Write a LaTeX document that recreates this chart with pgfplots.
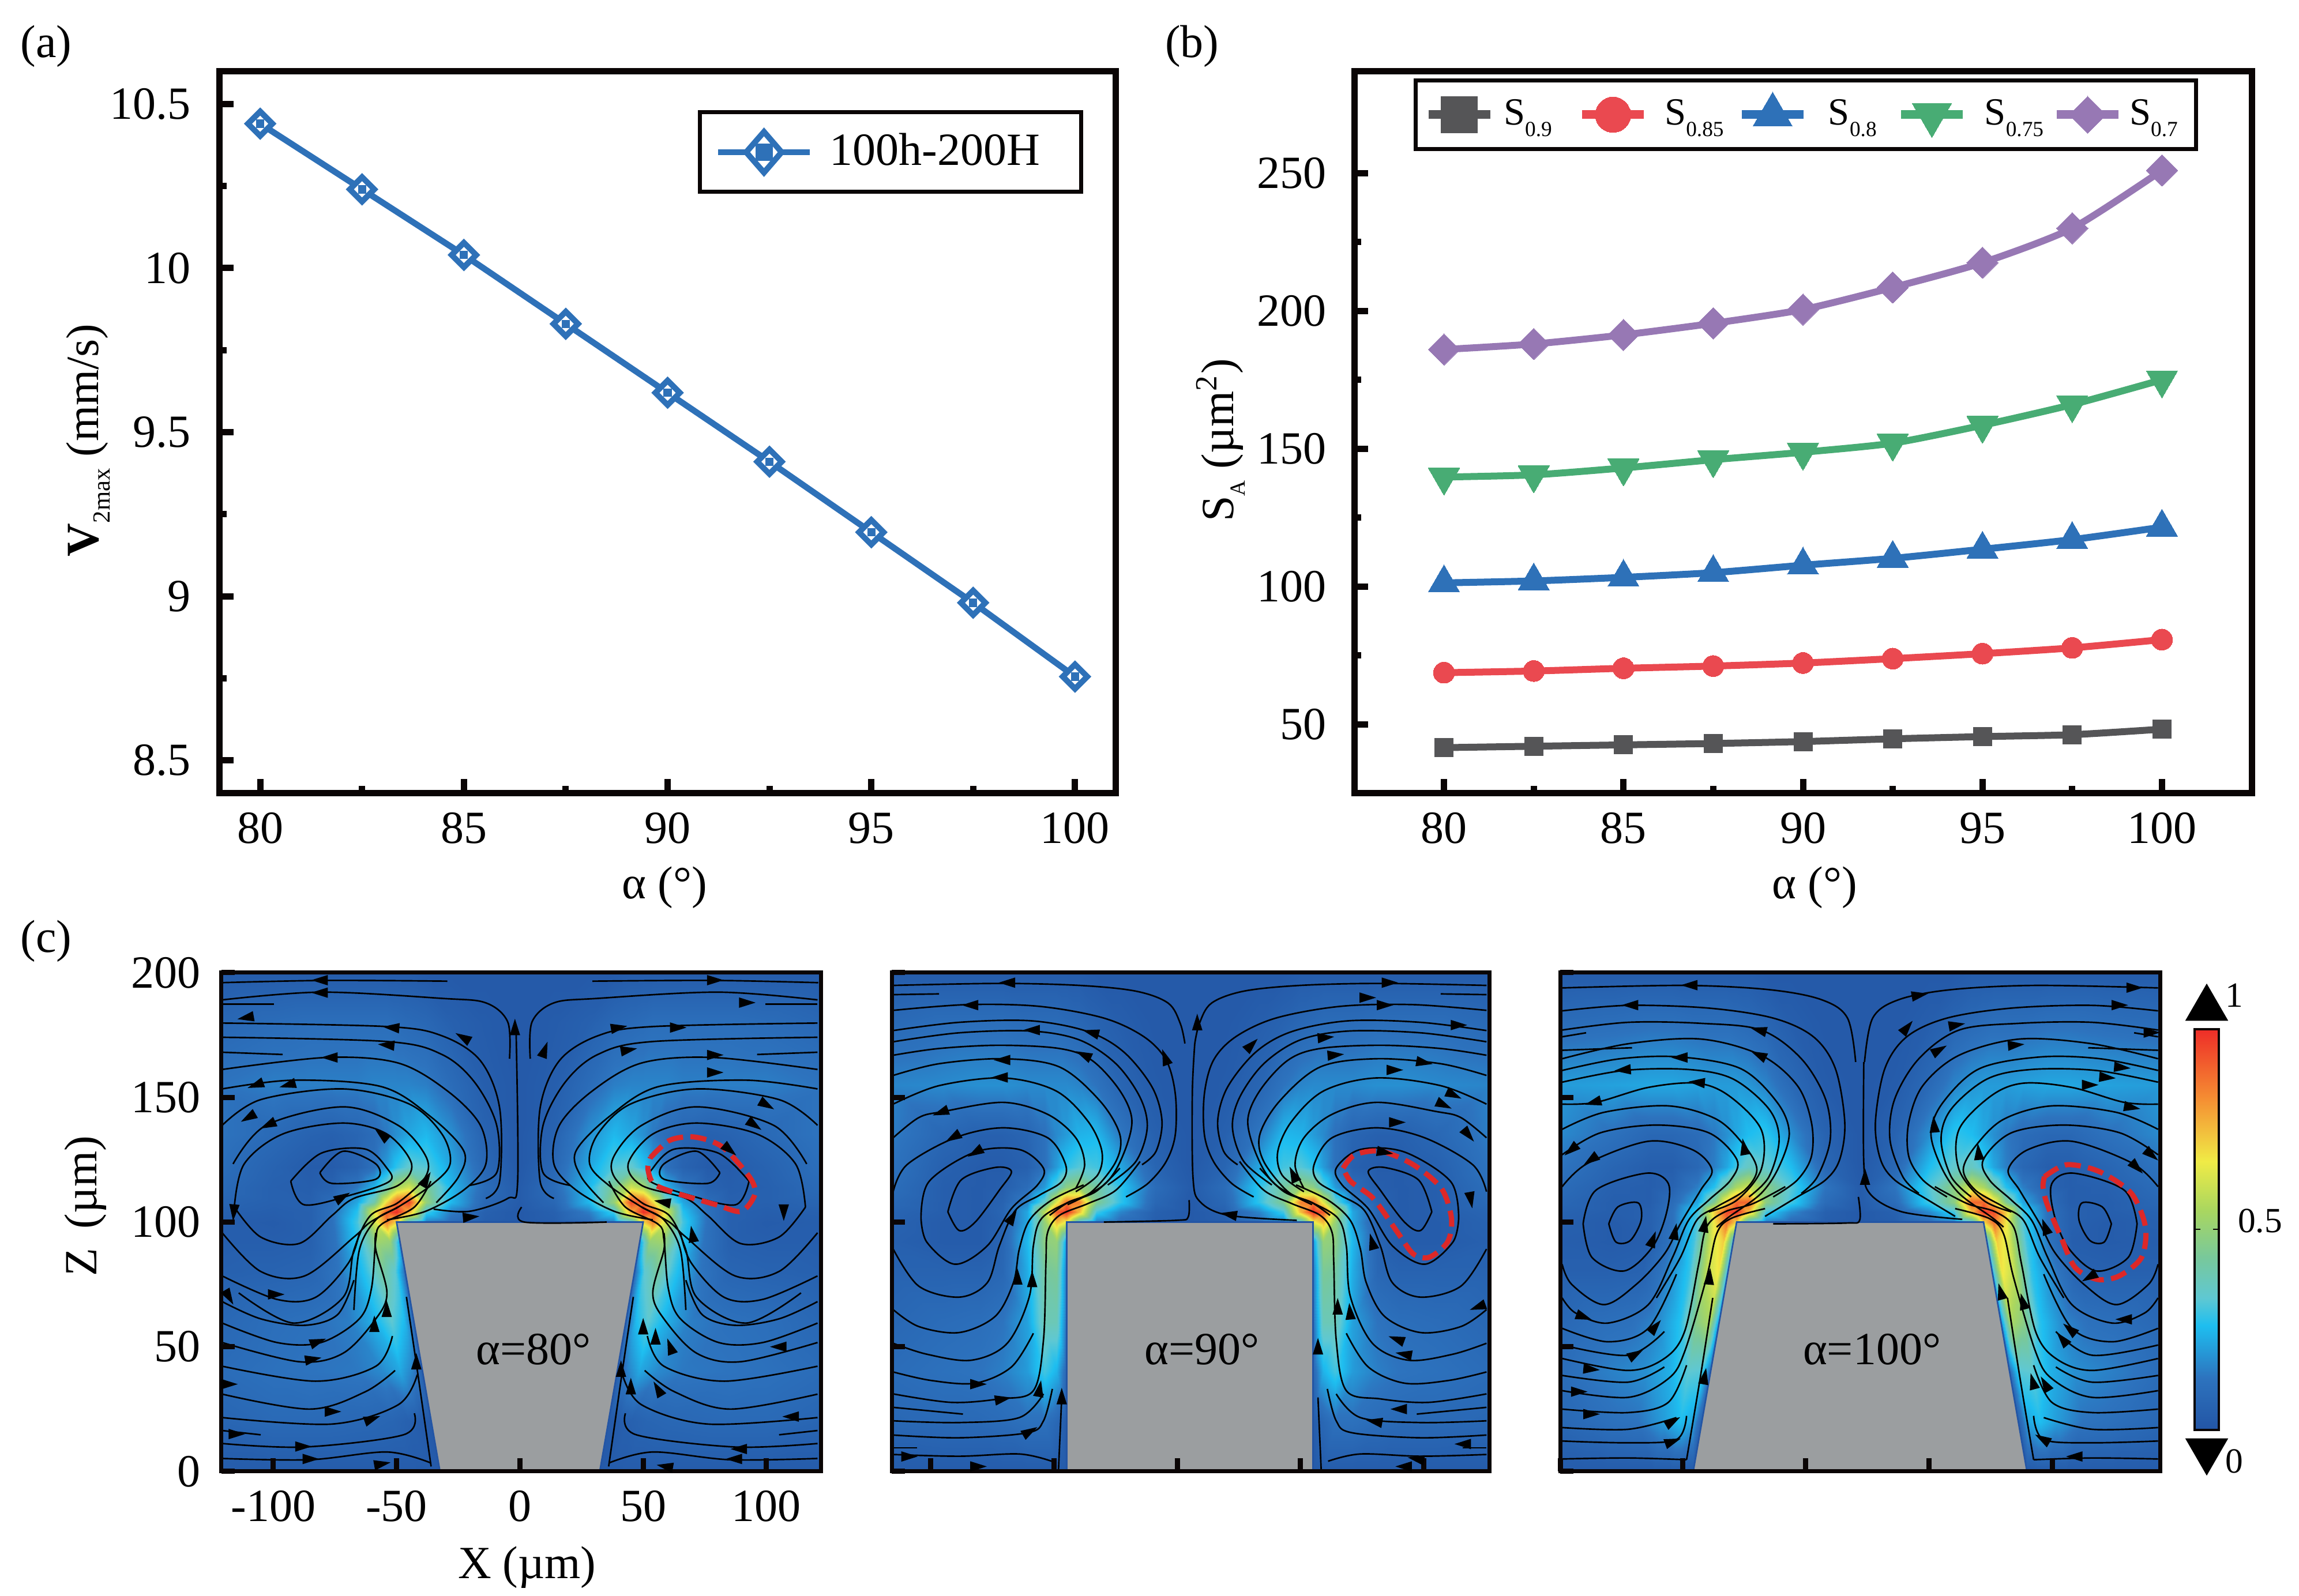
\documentclass[border=0pt]{standalone}
\usepackage{fontspec}
\usepackage{pgfplots}
\pgfplotsset{compat=1.18}
\setmainfont{Liberation Serif}
\newcommand\tw{\fontsize{12}{14.4}\selectfont}
\newcommand\lsub[1]{\raisebox{-3pt}{\fontsize{5.6}{6}\selectfont #1}}
\definecolor{cgray}{RGB}{85,85,87}
\definecolor{cred}{RGB}{234,73,80}
\definecolor{cblue}{RGB}{46,113,184}
\definecolor{cgreen}{RGB}{72,172,116}
\definecolor{cpurple}{RGB}{151,120,180}
\definecolor{spine}{RGB}{10,5,5}
\definecolor{wallgray}{RGB}{155,158,160}
\definecolor{deep}{RGB}{35,85,165}
\definecolor{loopred}{RGB}{221,40,40}
\pgfdeclareplotmark{arr}{%
  \pgfsetfillcolor{black}%
  \pgfpathmoveto{\pgfqpoint{2.3pt}{0pt}}%
  \pgfpathlineto{\pgfqpoint{-2pt}{1.35pt}}%
  \pgfpathlineto{\pgfqpoint{-2pt}{-1.35pt}}%
  \pgfpathclose\pgfusepathqfill}
\pgfplotsset{
  colormap={heat}{rgb255(0pt)=(35,85,165); rgb255(13pt)=(45,115,190); rgb255(26pt)=(30,190,240);
    rgb255(33pt)=(95,200,210); rgb255(43pt)=(120,200,155); rgb255(55pt)=(170,215,95);
    rgb255(67pt)=(240,235,70); rgb255(83pt)=(245,140,50); rgb255(100pt)=(238,45,40)},
  common/.style={scale only axis, enlargelimits=false, tick align=inside,
    xtick pos=bottom, ytick pos=left, axis line style={spine},
    tick label style={font=\tw}, label style={font=\tw},
    /pgf/number format/assume math mode=true},
  top/.style={common, at={(#1,208.875pt)}, anchor=south west, height=187.8pt,
    axis line style={spine,line width=1.65pt},
    every tick/.append style={spine,line width=1.65pt},
    major tick length=3.6pt, minor tick length=1.8pt,
    minor x tick num=1, minor y tick num=1,
    xmin=0, xtick={80,85,90,95,100},
    xticklabel style={yshift=-1.5pt}},
  flow/.style 2 args={common, at={(#1,32.4pt)}, anchor=south west, height=129.75pt, width=#2,
    axis line style={spine,line width=1.05pt},
    every tick/.append style={spine,line width=1.35pt},
    major tick length=3.45pt, ymin=0, ymax=200, ytick={0,50,100,150,200},
    axis on top, axis background/.style={fill=deep},
    point meta min=0, point meta max=1},
  stream/.style={black, line width=0.4pt, smooth, tension=0.55, no markers, forget plot},
  hotsurf/.style={surf, shader=interp, forget plot, point meta=explicit, mesh/cols=#1},
  dashloop/.style={loopred, line width=1.35pt, dash pattern=on 4.2pt off 1.9pt, smooth, no markers, forget plot},
  arrowmarks/.style={scatter, only marks, mark=arr, forget plot,
    scatter/use mapped color={draw=black,fill=black},
    visualization depends on={\thisrowno{2} \as \ang},
    scatter/@pre marker code/.append style={/tikz/rotate=\ang}},
}
% one half of the field / of the stream lines, drawn on both sides of the pillar
\newcommand\Hot[2]{%
  \addplot[hotsurf=#1] table[row sep=\\,header=false,x index=0,y index=1,meta index=2]{#2};
  \addplot[hotsurf=#1,x filter/.expression={-x}] table[row sep=\\,header=false,x index=0,y index=1,meta index=2]{#2};}
\newcommand\Sl[1]{%
  \addplot[stream] coordinates {#1};
  \addplot[stream,x filter/.expression={-x}] coordinates {#1};}
\newcommand\Sr[1]{\addplot[stream] coordinates {#1};}
\newcommand\Arrows[1]{\addplot[arrowmarks] table[row sep=\\,header=false,x index=0,y index=1]{#1};}
\begin{document}
\begin{tikzpicture}
\path[use as bounding box] (0,0) rectangle (597.9pt,415.2pt);
\node[font=\tw] at (12pt,403.2pt) {(a)};
\node[font=\tw] at (310pt,403.2pt) {(b)};
\node[font=\tw] at (12pt,170.4pt) {(c)};

% (a)
\begin{axis}[top=57.075pt, width=233.1pt,
    xmin=79, xmax=101, ymin=8.4, ymax=10.6, ytick={8.5,9,9.5,10,10.5},
    yticklabel style={xshift=-4pt,/pgf/number format/fixed},
    xlabel={α (°)}, xlabel style={at={(axis description cs:0.4965,-0.1306)},anchor=center},
    ylabel={\textbf{V}\raisebox{-3pt}{\fontsize{6.4}{7}\selectfont 2max} (mm/s)}, ylabel style={at={(axis description cs:-0.1464,0.489)},anchor=center},
    legend style={at={(axis description cs:0.7487,0.8878)},anchor=center,draw=spine,line width=1.05pt,
      inner xsep=4pt,inner ysep=4.3pt,font=\tw,nodes={inner sep=0pt},/tikz/column 1/.style={column sep=4.45pt}},
    legend image code/.code={
      \draw[cblue,line width=1.5pt] (0,0)--(23.85pt,0);
      \draw[cblue,line width=1.5pt,fill=white] (11.925pt,5.3pt)--(16.5pt,0)--(11.925pt,-5.3pt)--(7.3pt,0)--cycle;
      \fill[cblue] (10.5pt,-1.4pt) rectangle (13.4pt,1.4pt);},
  ]
\addplot[cblue,line width=1.6pt,mark=square*,mark size=2.25pt,
    mark options={rotate=45,fill=white,draw=cblue,line width=1.5pt,solid}] coordinates {
  (80,10.44)(82.5,10.24)(85,10.04)(87.5,9.83)(90,9.62)(92.5,9.41)(95,9.195)(97.5,8.98)(100,8.755)};
\addlegendentry{100h-200H\hspace*{6.7pt}}
\addplot[only marks,forget plot,mark=square*,mark size=1pt,mark options={fill=cblue,draw=cblue,line width=0pt}] coordinates {
  (80,10.44)(82.5,10.24)(85,10.04)(87.5,9.83)(90,9.62)(92.5,9.41)(95,9.195)(97.5,8.98)(100,8.755)};
\end{axis}

% (b)
\begin{axis}[top=352.2pt, width=233.4pt,
    xmin=77.5, xmax=102.5, ymin=25, ymax=287, ytick={50,100,150,200,250},
    yticklabel style={xshift=-3.7pt},
    xlabel={α (°)}, xlabel style={at={(axis description cs:0.513,-0.1306)},anchor=center},
    ylabel={S\lsub{A} (µm\textsuperscript{2})}, ylabel style={at={(axis description cs:-0.149,0.489)},anchor=center},
    legend columns=5,
    legend style={at={(axis description cs:0.5032,0.9397)},anchor=center,draw=spine,line width=1.05pt,
      inner xsep=2.2pt,inner ysep=3pt,font=\fontsize{10}{12}\selectfont,nodes={inner sep=0pt},
      /tikz/column 1/.style={column sep=2.4pt},/tikz/column 2/.style={column sep=6.75pt},
      /tikz/column 3/.style={column sep=4.3pt},/tikz/column 4/.style={column sep=3.6pt},
      /tikz/column 5/.style={column sep=5.35pt},/tikz/column 6/.style={column sep=5.25pt},
      /tikz/column 7/.style={column sep=4.55pt},/tikz/column 8/.style={column sep=2.35pt},
      /tikz/column 9/.style={column sep=1.75pt}},
    legend image code/.code={\draw[mark repeat=2,mark phase=2,#1] plot coordinates {(0pt,0pt)(8pt,0pt)(16pt,0pt)};},
    every axis plot/.append style={line width=1.8pt,smooth,tension=0.4,forget plot},
  ]
\addplot[cgray,mark=square*,mark size=2.4pt,mark options={solid,line width=0pt,fill=cgray}] coordinates {
  (80,41.5)(82.5,42)(85,42.5)(87.5,43)(90,43.7)(92.5,44.7)(95,45.5)(97.5,46.2)(100,48.2)};
\addplot[cred,mark=*,mark size=2.75pt,mark options={solid,line width=0pt,fill=cred}] coordinates {
  (80,68.7)(82.5,69.3)(85,70.3)(87.5,71.1)(90,72.2)(92.5,73.8)(95,75.6)(97.5,77.7)(100,80.7)};
\addplot[cblue,mark=triangle*,mark size=4.7pt,mark options={solid,line width=0pt,fill=cblue}] coordinates {
  (80,101.3)(82.5,102)(85,103.3)(87.5,105)(90,107.7)(92.5,110.2)(95,113.5)(97.5,117)(100,121.5)};
\addplot[cgreen,mark=triangle*,mark size=4.7pt,mark options={solid,rotate=180,line width=0pt,fill=cgreen}] coordinates {
  (80,139.7)(82.5,140.5)(85,143)(87.5,146)(90,148.7)(92.5,152)(95,158.5)(97.5,166)(100,175)};
\addplot[cpurple,mark=square*,mark size=2.9pt,mark options={solid,rotate=45,line width=0pt,fill=cpurple}] coordinates {
  (80,186)(82.5,188)(85,191.3)(87.5,195.5)(90,200.5)(92.5,208.5)(95,217.5)(97.5,230)(100,251)};
\addlegendimage{cgray,line width=2.25pt,mark=square*,mark size=4.7pt,mark options={solid,line width=0pt,fill=cgray}}
\addlegendentry{S\lsub{0.9}}
\addlegendimage{cred,line width=2.25pt,mark=*,mark size=4.6pt,mark options={solid,line width=0pt,fill=cred}}
\addlegendentry{S\lsub{0.85}}
\addlegendimage{cblue,line width=2.25pt,mark=triangle*,mark size=5.9pt,mark options={solid,line width=0pt,fill=cblue}}
\addlegendentry{S\lsub{0.8}}
\addlegendimage{cgreen,line width=2.25pt,mark=triangle*,mark size=5.9pt,mark options={solid,rotate=180,line width=0pt,fill=cgreen}}
\addlegendentry{S\lsub{0.75}}
\addlegendimage{cpurple,line width=2.25pt,mark=square*,mark size=3.4pt,mark options={solid,rotate=45,line width=0pt,fill=cpurple}}
\addlegendentry{S\lsub{0.7}\hspace*{2.5pt}}
\end{axis}

% (c) alpha = 80
\begin{axis}[flow={57.6pt}{155.85pt}, xmin=-121, xmax=122, xtick={-100,-50,0,50,100},
    xticklabel style={yshift=-1.5pt}, yticklabel style={xshift=-2pt},
    xlabel={X (µm)}, xlabel style={at={(axis description cs:0.51,-0.192)},anchor=center},
    ylabel={Z\, (µm)}, ylabel style={at={(axis description cs:-0.227,0.532)},anchor=center}]
\Hot{8}{-122 0 .03\\-100 0 .03\\-85 0 .03\\-58.4 0 .03\\-48.4 0 .03\\-41.4 0 .03\\-36.4 0 .03\\-32.4 0 .02\\
-122 20 .07\\-100 20 .09\\-85 20 .09\\-61.9 20 .08\\-51.9 20 .07\\-44.9 20 .05\\-39.9 20 .03\\-35.9 20 .02\\
-122 40 .10\\-100 40 .12\\-85 40 .13\\-65.4 40 .14\\-55.4 40 .17\\-48.4 40 .22\\-43.4 40 .15\\-39.4 40 .05\\
-122 60 .08\\-100 60 .11\\-85 60 .12\\-68.9 60 .15\\-58.9 60 .24\\-51.9 60 .33\\-46.9 60 .25\\-42.9 60 .08\\
-122 80 .05\\-100 80 .06\\-85 80 .07\\-72.5 80 .14\\-62.5 80 .28\\-55.5 80 .42\\-50.5 80 .33\\-46.5 80 .10\\
-122 92 .04\\-100 92 .04\\-85 92 .05\\-74.6 92 .13\\-64.6 92 .30\\-57.6 92 .52\\-52.6 92 .50\\-48.6 92 .20\\
-122 100 .04\\-100 100 .03\\-85 100 .05\\-76 100 .12\\-66 100 .30\\-59 100 .62\\-54 100 .85\\-50 100 .70\\}
\Hot{13}{-122 100 .04\\-100 100 .03\\-85 100 .05\\-76 100 .12\\-66 100 .30\\-59 100 .62\\-54 100 .85\\-50 100 .70\\-45 100 .30\\-38 100 .15\\-28 100 .10\\-14 100 .04\\0 100 .02\\
-122 104 .05\\-100 104 .04\\-85 104 .05\\-76 104 .12\\-66 104 .27\\-59 104 .65\\-54 104 .92\\-50 104 1\\-45 104 .78\\-38 104 .30\\-28 104 .15\\-14 104 .05\\0 104 .02\\
-122 108 .07\\-100 108 .05\\-85 108 .05\\-76 108 .10\\-66 108 .22\\-59 108 .40\\-54 108 .70\\-50 108 .90\\-45 108 .95\\-38 108 .50\\-28 108 .25\\-14 108 .08\\0 108 .03\\
-122 114 .09\\-100 114 .05\\-85 114 .04\\-76 114 .06\\-66 114 .14\\-59 114 .24\\-54 114 .38\\-50 114 .55\\-45 114 .62\\-38 114 .45\\-28 114 .25\\-14 114 .10\\0 114 .03\\
-122 122 .11\\-100 122 .06\\-85 122 .03\\-76 122 .03\\-66 122 .06\\-59 122 .12\\-54 122 .20\\-50 122 .28\\-45 122 .34\\-38 122 .32\\-28 122 .22\\-14 122 .08\\0 122 .02\\
-122 135 .13\\-100 135 .09\\-85 135 .06\\-76 135 .05\\-66 135 .07\\-59 135 .10\\-54 135 .14\\-50 135 .18\\-45 135 .22\\-38 135 .25\\-28 135 .18\\-14 135 .06\\0 135 .02\\
-122 155 .13\\-100 155 .15\\-85 155 .15\\-76 155 .15\\-66 155 .15\\-59 155 .16\\-54 155 .16\\-50 155 .16\\-45 155 .16\\-38 155 .15\\-28 155 .10\\-14 155 .04\\0 155 .02\\
-122 180 .08\\-100 180 .10\\-85 180 .11\\-76 180 .11\\-66 180 .11\\-59 180 .11\\-54 180 .11\\-50 180 .10\\-45 180 .09\\-38 180 .08\\-28 180 .05\\-14 180 .03\\0 180 .02\\
-122 200 .03\\-100 200 .03\\-85 200 .03\\-76 200 .03\\-66 200 .03\\-59 200 .03\\-54 200 .03\\-50 200 .03\\-45 200 .03\\-38 200 .02\\-28 200 .02\\-14 200 .02\\0 200 .02\\}
\addplot[fill=wallgray,draw=deep,line width=0.4pt,forget plot] coordinates {(-32.4,0)(-50,100)(50,100)(32.4,0)(-32.4,0)};
\Sl{(-121,196)(-78.4,196.9)(-29.4,196.6)}
\Sl{(-120.7,189.1)(-80.6,192.2)(-31.6,189.7)(-13.8,187.9)(-4.9,180.2)(-4.2,165.5)}
\Sl{(-120.7,187.4)(-99.6,187.4)}
\Sl{(-120.7,179.8)(-53.9,178.4)(-31.6,174.7)(-16,164.7)(-8.2,145.7)(-8.2,116.4)(-13.8,109.5)}
\Sl{(-120.7,174.1)(-53.9,172.4)(-31.6,167.2)(-18.3,156)(-9.4,138.8)(-9.4,119.8)(-20.5,114.7)}
\Sl{(-120.7,168.1)(-96.2,167.2)}
\Sl{(-120.7,161.2)(-78.4,166)(-49.4,163.8)(-29.4,152.6)(-16,138.8)(-13.8,123.3)(-22.7,112.9)(-38.3,104.3)(-53.9,100.9)}
\Sl{(-120.7,153.4)(-91.8,156.9)(-56.1,154.3)(-36.1,142.2)(-22.7,128.4)(-24.9,118.1)(-33.9,107.8)}
\Sl{(-120.7,138.8)(-105.1,149.1)(-71.7,153.4)(-45,147.4)(-31.6,135.3)(-28.3,123.3)(-36.1,114.7)(-49.4,106)(-58.4,100.9)(-65.1,88.8)(-67.3,64.7)}
\Sl{(-116.3,123.3)(-102.9,138.8)(-71.7,146.2)(-49.4,138.8)(-38.3,126.7)(-38.3,118.1)(-49.4,107.8)(-60.6,102.6)(-67.3,88.8)(-71.7,69.8)(-91.8,59.5)(-114,71.6)}
\Sl{(-115.8,106)(-111.8,123.3)(-96.2,135.3)(-71.7,139.7)(-53.9,135.3)(-43.9,123.3)(-49.4,114.7)(-67.3,109.5)(-76.2,102.6)(-89.5,91.4)(-105.1,94)(-115.8,106)}
\Sl{(-92.9,116.4)(-80.6,127.6)(-62.8,129.3)(-53.9,121.6)(-52.8,116.4)(-67.3,111.2)(-87.3,106.9)(-92.9,116.4)}
\Sl{(-81.1,119.8)(-71.7,128.4)(-58.4,123.3)(-58.4,117.2)(-76.2,115.5)(-81.1,119.8)}
\Sl{(-120.7,95.7)(-105.1,80.2)(-87.3,78.4)(-67.3,94)(-60.6,100)(-49.4,106)}
\Sl{(-120.7,78.4)(-98.5,69)(-82.9,69.8)(-69.5,83.6)(-65.1,95.7)}
\Sl{(-120.7,68.1)(-105.1,61.2)(-87.3,58.6)(-73.9,62.9)(-67.3,76.7)}
\Sl{(-120.7,59.5)(-98.5,51.7)(-80.6,51.7)(-65.1,61.2)(-60.2,73.3)(-58.4,93.1)(-56.1,99.1)(-42.8,106)(-36.1,116.4)}
\Sl{(-120.7,51.7)(-89.5,44)(-71.7,47.4)(-58.4,61.2)(-53.9,71.6)(-58.4,88.8)(-58.4,95.7)}
\Sl{(-120.7,42.2)(-82.9,36.2)(-58.4,42.2)(-51.7,54.3)}
\Sl{(-120.7,31)(-85.1,25)(-62.8,31.9)(-50.6,40.5)}
\Sl{(-120.7,21.6)(-76.2,19)(-49.4,26.7)(-41.6,38.8)}
\Sl{(-120.7,16.4)(-105.1,14.7)}
\Sl{(-120.7,11.2)(-87.3,9.8)(-47.2,14.7)(-42.8,23.3)}
\Sl{(-120.7,5.2)(-85.1,4.7)(-53.9,7.8)(-36.1,3.4)}
\Sl{(-36,2)(-41.8,42)(-46,70)}
\Sr{(-1.6,179.3)(-.9,116.4)(-4.9,109.5)(-20.5,104.3)(-35,105.2)}
\Sr{(.7,106)(1.8,100)(35.2,100)}
\addplot[dashloop] coordinates {(53,125.9)(60.8,132.8)(70.8,134.1)(82,130.2)(93.1,118.1)(95.3,111.2)(89.8,104.3)(79.7,106.9)(61.9,112.1)(54.1,115.5)(51.9,121.6)(53,125.9)};
\Arrows{-81 197 180\\-81 192 180\\-111 182 190\\-52 178 175\\-54 171 175\\-23 174 150\\-77 166 180\\-94 155 195\\-107 155 200\\-110 142 210\\-102 139 205\\-56 135 140\\-72 110 30\\-116 104 265\\-99 71 0\\-118 70 300\\-38 117 60\\-54 65 90\\-59 59 90\\-82 52 20\\-84 45 10\\-42 44 90\\-76 24 0\\-60 21 20\\-115 15 0\\-88 10 0\\-85 5 0\\-56 3 10\\-118 35 0\\-20 102 5\\-2 178 90\\10 169 70\\40 178 10\\64 178 0\\44 169 10\\79 197 0\\92 188 0\\79 167 0\\79 160 0\\100 147 -30\\95 139 -35\\107 104 -90\\70 95 100\\58 108 170\\50 58 90\\55 54 90\\61 50 110\\41 41 90\\45 34 90\\56 33 120\\105 50 180\\110 22 180\\89 9 180\\87 5 180\\59 2 170\\85 129 -40\\}
\node[font=\tw] at (axis cs:5.6,49) {α=80°};
\end{axis}

% (c) alpha = 90
\begin{axis}[flow={231.9pt}{155.4pt}, xmin=-121, xmax=121.5, xtick={-105.1,-55.1,-5.1,44.9,94.9},
    xticklabels={}, yticklabels={}]
\Hot{8}{-122 0 .03\\-100 0 .03\\-85 0 .03\\-76 0 .03\\-66 0 .03\\-59 0 .03\\-54 0 .03\\-50 0 .02\\
-122 20 .08\\-100 20 .09\\-85 20 .09\\-76 20 .10\\-66 20 .12\\-59 20 .12\\-54 20 .08\\-50 20 .03\\
-122 40 .10\\-100 40 .12\\-85 40 .13\\-76 40 .15\\-66 40 .20\\-59 40 .30\\-54 40 .24\\-50 40 .08\\
-122 60 .08\\-100 60 .10\\-85 60 .11\\-76 60 .13\\-66 60 .21\\-59 60 .38\\-54 60 .38\\-50 60 .12\\
-122 80 .06\\-100 80 .06\\-85 80 .06\\-76 80 .08\\-66 80 .23\\-59 80 .42\\-54 80 .44\\-50 80 .14\\
-122 92 .05\\-100 92 .03\\-85 92 .03\\-76 92 .07\\-66 92 .25\\-59 92 .48\\-54 92 .50\\-50 92 .20\\
-122 100 .06\\-100 100 .03\\-85 100 .03\\-76 100 .06\\-66 100 .22\\-59 100 .50\\-54 100 .75\\-50 100 .65\\}
\Hot{13}{-122 100 .06\\-100 100 .03\\-85 100 .03\\-76 100 .06\\-66 100 .22\\-59 100 .50\\-54 100 .75\\-50 100 .65\\-45 100 .30\\-38 100 .15\\-28 100 .10\\-14 100 .04\\0 100 .02\\
-122 104 .07\\-100 104 .04\\-85 104 .03\\-76 104 .07\\-66 104 .22\\-59 104 .58\\-54 104 .92\\-50 104 1\\-45 104 .75\\-38 104 .30\\-28 104 .16\\-14 104 .05\\0 104 .02\\
-122 108 .09\\-100 108 .04\\-85 108 .03\\-76 108 .06\\-66 108 .16\\-59 108 .35\\-54 108 .65\\-50 108 .88\\-45 108 .85\\-38 108 .45\\-28 108 .28\\-14 108 .08\\0 108 .02\\
-122 114 .11\\-100 114 .04\\-85 114 .03\\-76 114 .04\\-66 114 .10\\-59 114 .20\\-54 114 .34\\-50 114 .48\\-45 114 .52\\-38 114 .42\\-28 114 .28\\-14 114 .10\\0 114 .03\\
-122 122 .13\\-100 122 .05\\-85 122 .03\\-76 122 .03\\-66 122 .05\\-59 122 .12\\-54 122 .20\\-50 122 .28\\-45 122 .32\\-38 122 .30\\-28 122 .22\\-14 122 .07\\0 122 .02\\
-122 135 .15\\-100 135 .08\\-85 135 .05\\-76 135 .05\\-66 135 .07\\-59 135 .12\\-54 135 .17\\-50 135 .20\\-45 135 .24\\-38 135 .25\\-28 135 .14\\-14 135 .05\\0 135 .02\\
-122 155 .16\\-100 155 .17\\-85 155 .18\\-76 155 .18\\-66 155 .17\\-59 155 .17\\-54 155 .17\\-50 155 .17\\-45 155 .16\\-38 155 .13\\-28 155 .07\\-14 155 .03\\0 155 .02\\
-122 180 .09\\-100 180 .11\\-85 180 .11\\-76 180 .11\\-66 180 .10\\-59 180 .10\\-54 180 .10\\-50 180 .09\\-45 180 .08\\-38 180 .06\\-28 180 .04\\-14 180 .02\\0 180 .02\\
-122 200 .03\\-100 200 .03\\-85 200 .03\\-76 200 .03\\-66 200 .03\\-59 200 .03\\-54 200 .03\\-50 200 .03\\-45 200 .03\\-38 200 .02\\-28 200 .02\\-14 200 .02\\0 200 .02\\}
\addplot[fill=wallgray,draw=deep,line width=0.4pt,forget plot] coordinates {(-50,0)(-50,100)(50,100)(50,0)(-50,0)};
\Sl{(-120.4,194.9)(-77.3,195.7)(-44.7,194.9)(-21.9,192.6)(-8.8,187.8)(-3.9,179.7)(-2,171.6)}
\Sl{(-120.4,184.9)(-90.4,187.2)(-61,186.5)(-34.9,181.8)(-18.6,174.3)(-9.6,164.9)(-5.9,151.4)(-5.9,135.1)(-9.6,124.3)(-17,115.5)(-25.9,110.1)}
\Sl{(-120.4,176.8)(-93.6,180.1)(-64.3,180.7)(-41.4,176.4)(-26.8,168.2)(-15.3,154.1)(-11.3,140.5)(-13.7,128.4)(-19.4,123)}
\Sl{(-120.4,172.3)(-93.6,175.9)(-64.3,176.6)(-44.7,173)(-30,163.5)(-20.2,150)(-17.3,137.8)(-21.9,124.3)(-33.3,114.9)}
\Sl{(-120.4,166.9)(-101.8,169.6)(-77.3,170.9)(-52.9,169.6)(-39.8,164.9)(-28.4,152.7)(-23.5,140.5)(-27.6,125.7)(-34.9,114.9)(-49.6,107)}
\Sl{(-120.4,158.8)(-101.8,163.5)(-75.7,165.5)(-52.9,162.2)(-36.5,148.6)(-28.4,135.1)(-30,124.3)(-39.8,112.2)(-49.6,107.8)(-56.9,102.7)}
\Sl{(-120.4,147.3)(-101.8,154.7)(-75.7,157.8)(-54.5,152.7)(-41.4,140.5)(-35.7,128.4)(-37.4,118.9)(-46.3,112.2)}
\Sl{(-120.4,133.8)(-110,141.9)(-100.2,144.3)(-75.7,148)(-57.7,143.2)(-46.3,133.8)(-42.7,123)(-46.3,113.5)}
\Sl{(-120.4,112.2)(-114.8,123)(-95.3,133.8)(-75.7,137.8)(-57.7,133.8)(-50.4,123)(-52,116.2)(-61,110.8)(-70.8,104.7)(-77.3,90.5)(-82.2,75.7)(-93.6,69.9)(-110,74.3)(-120.4,89.2)}
\Sl{(-109.1,101.4)(-105.9,116.2)(-87.1,128.1)(-69.2,129.1)(-59.4,121.6)(-61.8,114.9)(-72.4,105.4)(-82.2,90.5)(-95.3,83.1)(-106.7,91.9)(-109.1,101.4)}
\Sl{(-98.2,104.1)(-92.8,116.9)(-79,121.9)(-72.4,120.3)(-77.3,112.8)(-87.1,100)(-93.6,96.6)(-98.2,104.1)}
\Sl{(-120.4,64.9)(-110,58.1)(-93.6,55.7)(-79,62.2)(-71.6,75.7)(-69.2,89.2)(-65.1,100.7)(-56.1,108.8)(-43.1,114.9)}
\Sl{(-120.4,51.4)(-106.7,47)(-88.7,44.6)(-74.1,51.4)(-65.1,70.3)(-63.5,90.5)(-60.2,101.4)(-49.6,107.8)(-38.2,112.2)(-28.4,121.6)}
\Sl{(-120.4,39.9)(-105.1,36.5)(-87.1,35.4)(-72.4,41.9)(-63.5,55.4)}
\Sl{(-120.4,31.1)(-96.9,27.7)(-77.3,29.1)(-63.5,32.4)(-59.4,52.7)(-58.4,83.8)(-57.7,95.9)(-52.9,102.7)(-41.4,107.4)(-30,112.8)(-20.2,124.3)}
\Sl{(-120.4,25.7)(-92.1,23)}
\Sl{(-120.4,20.3)(-93.6,19.6)(-69.2,21.6)(-59.4,31.1)}
\Sl{(-120.4,14.6)(-93.6,13.5)(-65.9,15.5)(-59.4,20.3)(-55.8,33.1)}
\Sl{(-120.4,6.8)(-93.6,6.1)(-69.2,7)(-56.1,4.1)}
\Sl{(-53.3,.7)(-52,29.7)}
\Sl{(-120.4,9.5)(-110.8,9.5)}
\Sl{(-120.4,191.2)(-101.8,191.5)}
\Sr{(-.3,108.8)(-.7,102)(-5.5,100.7)(-34.9,100)}
\Sr{(43.4,100.7)(15.7,102.7)(4.2,108.1)(1.3,117.6)(1,151.4)(2,171.6)}
\addplot[dashloop] coordinates {(62.2,121.6)(67,127)(77.6,128.4)(90.7,123)(102.1,113.5)(106.2,101.4)(104.6,92)(97.2,85.9)(90.7,87.2)(84.2,96)(74.4,109.5)(65.4,116.2)(62.2,121.6)};
\Arrows{-74 196 180\\-89 187 180\\-64 177 180\\-40 176 165\\-43 167 155\\-76 165 180\\-77 158 180\\-101 144 200\\-96 134 210\\-87 128 210\\-72 102 60\\-70 78 90\\-64 77 90\\-86 35 0\\-76 29 10\\-61 33 80\\-65 16 30\\-52 30 90\\-114 6 0\\-86 2 0\\-10 166 110\\3 180 90\\81 196 0\\72 190 0\\79 187 0\\109 179 0\\25 171 45\\55 174 5\\59 167 5\\95 164 -10\\83 161 0\\107 151 -25\\103 147 -25\\84 140 0\\113 135 -50\\114 109 -80\\79 128 -10\\42 119 115\\16 103 170\\74 92 105\\60 66 90\\65 64 95\\117 66 200\\84 53 160\\87 47 170\\85 25 180\\75 20 170\\111 11 180\\92 5 170\\87 2 180\\52 50 90\\}
\node[font=\tw] at (axis cs:5,49) {α=90°};
\end{axis}

% (c) alpha = 100
\begin{axis}[flow={405.75pt}{156pt}, xmin=-121.5, xmax=121.5, xtick={-121.4,-71.9,-22.1,27.9,77.9},
    xticklabels={}, yticklabels={}]
\Hot{8}{-122 0 .03\\-112 0 .03\\-103 0 .03\\-93.6 0 .03\\-83.6 0 .03\\-76.6 0 .03\\-71.6 0 .03\\-67.6 0 .02\\
-122 20 .08\\-110 20 .10\\-100 20 .12\\-90 20 .13\\-80 20 .20\\-73 20 .26\\-68 20 .22\\-64 20 .04\\
-122 40 .10\\-108 40 .14\\-97 40 .16\\-86.6 40 .18\\-76.6 40 .24\\-69.6 40 .33\\-64.6 40 .32\\-60.6 40 .10\\
-122 60 .08\\-105 60 .11\\-93 60 .12\\-83 60 .16\\-73 60 .27\\-66 60 .48\\-61 60 .55\\-57 60 .18\\
-122 80 .05\\-102 80 .05\\-88 80 .06\\-79.5 80 .14\\-69.5 80 .28\\-62.5 80 .58\\-57.5 80 .68\\-53.5 80 .25\\
-122 92 .04\\-100 92 .03\\-86 92 .04\\-77.4 92 .12\\-67.4 92 .30\\-60.4 92 .62\\-55.4 92 .72\\-51.4 92 .30\\
-122 100 .05\\-100 100 .03\\-85 100 .05\\-76 100 .12\\-66 100 .32\\-59 100 .68\\-54 100 .88\\-50 100 .70\\}
\Hot{13}{-122 100 .05\\-100 100 .03\\-85 100 .05\\-76 100 .12\\-66 100 .32\\-59 100 .68\\-54 100 .88\\-50 100 .70\\-45 100 .30\\-38 100 .15\\-28 100 .10\\-14 100 .04\\0 100 .02\\
-122 104 .06\\-100 104 .04\\-85 104 .05\\-76 104 .12\\-66 104 .30\\-59 104 .72\\-54 104 .95\\-50 104 1\\-45 104 .75\\-38 104 .30\\-28 104 .17\\-14 104 .05\\0 104 .02\\
-122 108 .08\\-100 108 .04\\-85 108 .04\\-76 108 .10\\-66 108 .22\\-59 108 .45\\-54 108 .72\\-50 108 .90\\-45 108 .90\\-38 108 .48\\-28 108 .30\\-14 108 .10\\0 108 .03\\
-122 114 .10\\-100 114 .05\\-85 114 .04\\-76 114 .06\\-66 114 .15\\-59 114 .27\\-54 114 .42\\-50 114 .55\\-45 114 .62\\-38 114 .48\\-28 114 .32\\-14 114 .13\\0 114 .03\\
-122 122 .13\\-100 122 .07\\-85 122 .04\\-76 122 .04\\-66 122 .08\\-59 122 .15\\-54 122 .22\\-50 122 .30\\-45 122 .36\\-38 122 .34\\-28 122 .26\\-14 122 .08\\0 122 .02\\
-122 135 .17\\-100 135 .12\\-85 135 .08\\-76 135 .08\\-66 135 .10\\-59 135 .14\\-54 135 .18\\-50 135 .22\\-45 135 .26\\-38 135 .28\\-28 135 .18\\-14 135 .06\\0 135 .02\\
-122 155 .20\\-100 155 .21\\-85 155 .22\\-76 155 .22\\-66 155 .21\\-59 155 .20\\-54 155 .20\\-50 155 .20\\-45 155 .19\\-38 155 .16\\-28 155 .09\\-14 155 .03\\0 155 .02\\
-122 180 .10\\-100 180 .11\\-85 180 .12\\-76 180 .12\\-66 180 .11\\-59 180 .11\\-54 180 .11\\-50 180 .10\\-45 180 .09\\-38 180 .07\\-28 180 .04\\-14 180 .02\\0 180 .02\\
-122 200 .03\\-100 200 .03\\-85 200 .03\\-76 200 .03\\-66 200 .03\\-59 200 .03\\-54 200 .03\\-50 200 .03\\-45 200 .03\\-38 200 .02\\-28 200 .02\\-14 200 .02\\0 200 .02\\}
\addplot[fill=wallgray,draw=deep,line width=0.4pt,forget plot] coordinates {(-67.6,0)(-50,100)(50,100)(67.6,0)(-67.6,0)};
\Sl{(-120.7,193.9)(-71.1,194.9)(-36.9,193.2)(-15.7,189.2)(-5.1,181.8)(-1.8,164.2)}
\Sl{(-120.7,184.7)(-94,186.9)(-61.3,185.8)(-35.2,181.8)(-18.9,174.3)(-10,161.5)(-6.2,139.9)(-8.3,125)(-14,116.9)(-25.4,110.1)(-38.5,102.3)}
\Sl{(-120.7,177)(-94,180.1)(-64.6,179.7)(-40.1,177)(-23.8,165.5)(-14,149.3)(-12.1,133.1)(-17.3,118.2)(-23.8,111.5)}
\Sl{(-120.7,174.3)(-111,175.9)}
\Sl{(-120.7,168.9)(-92.4,169.9)}
\Sl{(-120.7,165.5)(-94,171.5)(-64.6,173.4)(-40.1,166.9)(-25.4,154.7)(-19.7,139.9)(-19.7,126.4)(-25.4,116.9)(-35.2,110.1)}
\Sl{(-120.7,160.8)(-97.2,165.5)(-72.8,166.2)(-48.3,161.5)(-33.6,148)(-28.7,135.8)(-32.8,122.3)(-40.1,111.5)(-53.2,102)(-58.1,98)}
\Sl{(-120.7,156.1)(-95.6,160.8)(-69.5,161.2)(-51.5,157.4)(-36.9,145.3)(-32.8,133.1)(-36.9,118.2)(-45,110.1)}
\Sl{(-120.7,147.3)(-107,148)(-85.8,154)(-66.2,155.7)(-53.2,150.7)(-40.1,137.2)(-40.1,121)(-49.9,108.8)(-61.3,104.1)}
\Sl{(-120.7,137.2)(-103.8,144)(-77.7,146.6)(-58.1,141.2)(-46.7,130.4)(-41.8,121)(-46.7,112.8)(-58.1,106.1)(-66.2,100.7)(-72.8,85.8)(-82.5,69.6)}
\Sl{(-120.7,127)(-105.2,135.8)(-82.5,138.9)(-61.3,135.8)(-49.9,125)(-52.4,116.9)(-61.3,108.8)(-69.5,100.7)(-76,85.8)(-85.8,66.9)(-102.1,59.5)(-115.2,63.5)(-120.7,69.6)}
\Sl{(-120.7,114.2)(-110.3,123.6)(-85.8,132.4)(-67.9,129)(-60,120.9)(-64.6,112.8)(-72.8,99.3)(-79.3,87.2)(-90.7,75)(-103.8,66.9)(-116.8,75)(-120.7,83.1)}
\Sl{(-112.2,99.3)(-107,112.8)(-86.6,119.6)(-77.7,115.5)(-78.5,103.4)(-84.2,89.9)(-95.6,80.4)(-108.6,85.8)(-112.2,99.3)}
\Sl{(-101.8,99.3)(-98.1,106.1)(-89.9,107.7)(-88.7,100.7)(-93.1,92.6)(-98.9,92)(-101.8,99.3)}
\Sl{(-120.7,57.4)(-102.1,52)(-85.8,57.4)(-74.4,79.1)}
\Sl{(-120.7,50.7)(-94,46.6)(-79.3,56.1)}
\Sl{(-120.7,45.3)(-94,40.5)(-79.3,45.3)(-71.1,56.1)(-65.4,83.1)(-62.2,98)(-54.8,104.1)(-43.4,107.4)(-30.3,114.2)}
\Sl{(-120.7,38.5)(-94,35.8)(-79.3,41.9)}
\Sl{(-120.7,32.4)(-94,29.7)(-77.7,37.2)(-71.1,48)(-62.2,77.7)(-58.1,95.3)(-52.4,101.4)(-38.5,105.4)}
\Sl{(-120.7,25)(-94,23.6)(-77.7,27.7)(-70.3,42.6)}
\Sl{(-120.7,17.6)(-94,16.9)(-74.4,21.6)}
\Sl{(-120.7,12.2)(-94,11.5)(-74.4,12.8)(-70.3,22.3)}
\Sl{(-120.7,5)(-94,5.4)(-70.3,4.7)}
\Sl{(-70.3,4.7)(-64.6,38.5)(-59.7,69.6)}
\Sr{(-.7,110.1)(-.2,100.7)(-5.9,99.6)(-35.2,99.3)}
\Sr{(41.4,101.1)(17,104.1)(3.9,111.5)(1.5,123.6)(1.5,164.2)}
\addplot[dashloop] coordinates {(74.7,118.2)(83.7,123)(96.8,120.3)(109.9,111.5)(115.6,98)(114,85.8)(105,78.4)(96.1,77)(87.1,81.8)(81.4,93.9)(75.7,107.4)(74.1,114.2)(74.7,118.2)};
\Arrows{-69 195 180\\-93 187 180\\-41 177 165\\-41 167 155\\-73 166 180\\-96 161 185\\-66 156 175\\-108 148 195\\-117 129 220\\-109 125 215\\-47 130 100\\-84 93 70\\-75 96 80\\-63 99 80\\-61 78 85\\-112 62 -20\\-83 58 50\\-91 47 30\\-109 41 -5\\-114 32 0\\-109 23 0\\-76 20 30\\-76 12 20\\-63 38 80\\2 118 90\\24 191 10\\19 178 50\\39 179 10\\32 169 30\\63 171 5\\111 194 0\\105 187 0\\118 176 0\\106 162 -5\\100 158 -5\\93 155 0\\110 146 -10\\118 127 -40\\112 122 -45\\30 139 95\\48 128 95\\75 98 110\\57 72 105\\66 68 105\\107 61 180\\85 57 140\\82 53 130\\70 36 105\\75 35 120\\74 13 150\\87 6 180\\93 78 -150\\}
\node[font=\tw] at (axis cs:4.8,49) {α=100°};
\end{axis}

% colour scale
\begin{axis}[common, at={(570.75pt,43.2pt)}, anchor=south west, width=6.3pt, height=104.25pt,
    xmin=0, xmax=1, ymin=0, ymax=1, xtick=\empty, ytick={0.5}, yticklabels={}, ytick pos=both,
    axis line style={spine,line width=0.5pt}, every tick/.append style={spine,line width=0.3pt},
    major tick length=1.5pt, clip=false, axis on top, point meta min=0, point meta max=1]
\addplot[hotsurf=2] table[row sep=\\,header=false,x index=0,y index=1,meta index=2]{0 0 0\\1 0 0\\0 .13 .13\\1 .13 .13\\0 .26 .26\\1 .26 .26\\0 .33 .33\\1 .33 .33\\0 .43 .43\\1 .43 .43\\0 .55 .55\\1 .55 .55\\0 .67 .67\\1 .67 .67\\0 .83 .83\\1 .83 .83\\0 1 1\\1 1 1\\};
\addplot[only marks,forget plot,mark=triangle*,mark size=6.06pt,mark options={fill=black,draw=none}] coordinates {(0.5,1.052)};
\addplot[only marks,forget plot,mark=triangle*,mark size=6.06pt,mark options={rotate=180,fill=black,draw=none}] coordinates {(0.5,-0.052)};
\node[font=\fontsize{9.2}{10}\selectfont] at (axis cs:1.65,1.085) {1};
\node[font=\fontsize{9.2}{10}\selectfont] at (axis cs:2.7,0.521) {0.5};
\node[font=\fontsize{9.2}{10}\selectfont] at (axis cs:1.65,-0.079) {0};
\end{axis}
\end{tikzpicture}
\end{document}
